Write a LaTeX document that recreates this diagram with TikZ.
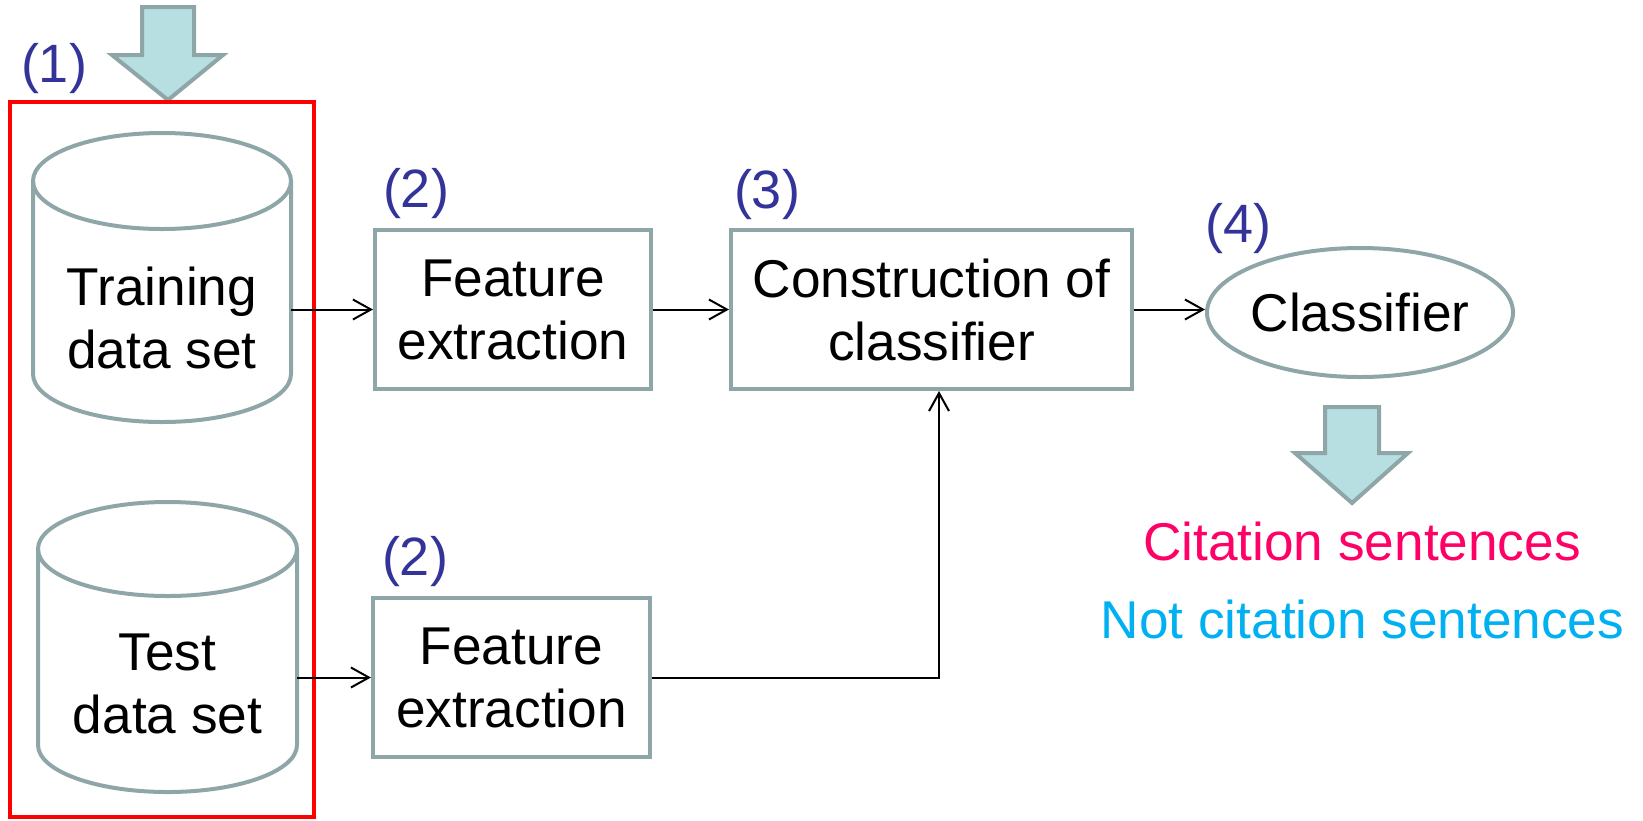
\documentclass[tikz,border=0pt]{standalone}
\usepackage{fontspec}
\setmainfont{Liberation Sans}
\usetikzlibrary{arrows.meta,shapes.geometric,calc}
\definecolor{edgegray}{RGB}{143,166,168}
\definecolor{arrowfill}{RGB}{183,223,225}
\definecolor{lblblue}{RGB}{51,51,153}
\definecolor{citepink}{RGB}{255,0,102}
\definecolor{citecyan}{RGB}{0,176,240}
\begin{document}
\begin{tikzpicture}[x=0.5pt,y=-0.5pt,
  txt/.style={font=\fontsize{26.6}{31.5}\selectfont, align=center, inner sep=0pt},
  lbl/.style={font=\fontsize{27}{31}\selectfont, text=lblblue, inner sep=0pt},
  procbox/.style={draw=edgegray, line width=2pt, txt, minimum height=79.5pt},
  cyl/.style={draw=edgegray, line width=2pt},
  region/.style={inner sep=0pt, minimum width=#1},
  flowarrow/.style={draw=edgegray, fill=arrowfill, line width=2pt, line join=miter},
  conn/.style={draw=black, line width=1pt, -{Straight Barb[length=9pt,width=10pt,line width=1pt]}},
  redframe/.style={draw=red, line width=2.25pt}
]
\useasboundingbox (0,0) rectangle (1643,820);

% big input arrow
\path[flowarrow] (142,7) -- (194,7) -- (194,55) -- (223,55) -- (168,100) -- (112,55) -- (142,55) -- cycle;

% red frame
\draw[redframe] (10,102) rectangle (314,817);

% labels
\node[lbl] (l1) at (54,69) {(1)};
\node[lbl] (l2a) at (416,194) {(2)};
\node[lbl] (l3) at (767,195) {(3)};
\node[lbl] (l4) at (1238,229) {(4)};
\node[lbl] (l2b) at (415,562) {(2)};

% training cylinder
\node[region=129pt, minimum height=144.5pt] (train) at (162,277.5) {};
\draw[cyl] (33,181) -- (33,374) arc[start angle=180, end angle=0, x radius=129, y radius=48] -- (291,181);
\draw[cyl] (162,181) ellipse[x radius=129, y radius=48];
\node[txt] (traintxt) at (162,318) {Training\\data set};

% test cylinder
\node[region=129.5pt, minimum height=145pt] (test) at (167.5,647) {};
\draw[cyl] (38,549) -- (38,745) arc[start angle=180, end angle=0, x radius=129.5, y radius=47] -- (297,549);
\draw[cyl] (167.5,549) ellipse[x radius=129.5, y radius=47];
\node[txt] (testtxt) at (167.5,683.5) {Test\\data set};

% process boxes
\node[procbox, minimum width=138pt] (fe1) at (513,309.5) {Feature\\extraction};
\node[procbox, minimum width=138.5pt] (fe2) at (511.5,677.5) {Feature\\extraction};
\node[procbox, minimum width=200.5pt] (cons) at (931.5,309.5) {Construction of\\classifier};
\node[draw=edgegray, line width=2pt, ellipse, inner sep=0pt, minimum width=153pt, minimum height=64.5pt,
      font=\fontsize{26.6}{31.5}\selectfont] (clf) at (1360,312.5) {\makebox[0pt]{Classifier}};

% connectors
\draw[conn] (train.east |- fe1.west) -- (fe1.west);
\draw[conn] (fe1.east) -- (cons.west);
\draw[conn] (cons.east) -- (cons.east -| clf.west);
\draw[conn] (test.east |- fe2.west) -- (fe2.west);
\draw[conn] (fe2.east) -| ([xshift=3.75pt]cons.south);

% output arrow
\path[flowarrow] (1325,407) -- (1379,407) -- (1379,453) -- (1408,453) -- (1352,503) -- (1295,453) -- (1325,453) -- cycle;

% results
\node[txt, text=citepink, anchor=base] (cit) at (1362,560) {Citation sentences};
\node[txt, text=citecyan, anchor=base] (ncit) at (1362.5,638) {Not citation sentences};
\end{tikzpicture}
\end{document}
